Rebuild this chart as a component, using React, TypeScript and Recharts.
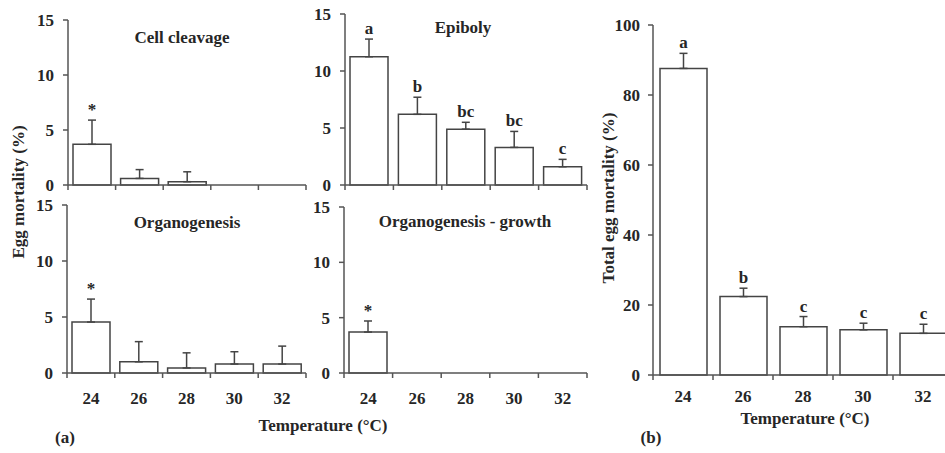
import React from 'react';
import { BarChart, Bar, XAxis, YAxis, ErrorBar } from 'recharts';

const temps = [24, 26, 28, 30, 32];
const edgeTicks = [23, 24, 25, 26, 27, 28, 29, 30, 31, 32, 33];
const stageTicks = [0, 5, 10, 15];
const totalTicks = [0, 20, 40, 60, 80, 100];

const cleavageMean = [3.7, 0.6, 0.3, 0, 0];
const cleavageErr = [2.2, 0.8, 0.9, 0, 0];
const cleavageSig = ['*', '', '', '', ''];

const epibolyMean = [11.25, 6.2, 4.9, 3.3, 1.6];
const epibolyErr = [1.55, 1.5, 0.6, 1.4, 0.65];
const epibolySig = ['a', 'b', 'bc', 'bc', 'c'];

const organMean = [4.55, 1.0, 0.45, 0.8, 0.8];
const organErr = [2.05, 1.8, 1.35, 1.1, 1.6];
const organSig = ['*', '', '', '', ''];

const growthMean = [3.7, 0, 0, 0, 0];
const growthErr = [1.0, 0, 0, 0, 0];
const growthSig = ['*', '', '', '', ''];

const totalMean = [87.6, 22.4, 13.8, 12.9, 11.9];
const totalErr = [4.3, 2.4, 2.9, 1.9, 2.6];
const totalSig = ['a', 'b', 'c', 'c', 'c'];

const FONT = '"Liberation Serif", "Times New Roman", serif';
const INK = '#262626';
const LINE = '#555';
const BAR = '#444';

const textStyle = { fill: INK, fontFamily: FONT, fontWeight: 'bold', fontSize: 17 } as const;

const rowsOf = (mean: number[], err: number[]) =>
  temps.map((t, i) => ({ t, m: mean[i], e: [0, err[i]] }));

interface PanelProps {
  x: number;
  y: number;
  w: number;
  h: number;
  margin: { top: number; right: number; left: number; bottom: number };
  yWidth: number;
  yMax: number;
  yTicks: number[];
  mean: number[];
  err: number[];
  sig: string[];
  barSize: number;
  labelGap: number; // 0 = no x labels
  tickMargin: number;
}

const Panel = ({ x, y, w, h, margin, yWidth, yMax, yTicks, mean, err, sig, barSize, labelGap, tickMargin }: PanelProps) => {
  const rows = rowsOf(mean, err);

  // ticks sit on the category edges (odd values), labels on the centres
  const tick = (p: any) => {
    const v = p.payload.value;
    if (v % 2 === 1) {
      return <line x1={p.x} x2={p.x} y1={p.y} y2={p.y + 5} stroke={LINE} strokeWidth={1.5} />;
    }
    if (!labelGap) return <g />;
    return (
      <text x={p.x} y={p.y + labelGap} dy="0.35em" textAnchor="middle" style={textStyle}>
        {v}
      </text>
    );
  };

  const sigLabel = (p: any) => {
    const vb = p.viewBox && p.viewBox.width !== undefined ? p.viewBox : p;
    const i = p.index;
    const s = sig[i];
    if (!s || !mean[i]) return null;
    const top = vb.y - (err[i] * vb.height) / mean[i];
    return (
      <text key={`s${i}`} x={vb.x + vb.width / 2} y={top - 5} textAnchor="middle" style={textStyle}>
        {s}
      </text>
    );
  };

  return (
    <div style={{ position: 'absolute', left: x, top: y }}>
      <BarChart width={w} height={h} data={rows} margin={margin}>
        <XAxis
          dataKey="t"
          type="number"
          domain={[23, 33]}
          ticks={edgeTicks}
          interval={0}
          height={1}
          tickLine={false}
          tickSize={0}
          tickMargin={0}
          tick={tick}
          axisLine={{ stroke: LINE, strokeWidth: 1.5 }}
        />
        <YAxis
          type="number"
          domain={[0, yMax]}
          ticks={yTicks}
          interval={0}
          width={yWidth}
          tickSize={5}
          tickMargin={tickMargin}
          axisLine={{ stroke: LINE, strokeWidth: 1.5 }}
          tickLine={{ stroke: LINE, strokeWidth: 1.5 }}
          tick={textStyle}
        />
        <Bar
          dataKey="m"
          fill="#fff"
          stroke={BAR}
          strokeWidth={1.5}
          barSize={barSize}
          isAnimationActive={false}
          label={sigLabel}
        >
          <ErrorBar dataKey="e" direction="y" width={4} stroke={BAR} strokeWidth={1.5} />
        </Bar>
      </BarChart>
    </div>
  );
};

export default function App() {
  return (
    <div
      style={{
        position: 'absolute',
        left: 0,
        top: 0,
        width: 945,
        height: 453,
        overflow: 'hidden',
        background: '#fff',
      }}
    >
      <Panel x={0} y={0} w={320} h={200} margin={{ top: 20, right: 14, left: 0, bottom: 14 }} yWidth={68}
        yMax={15} yTicks={stageTicks} mean={cleavageMean} err={cleavageErr} sig={cleavageSig} barSize={38} labelGap={0} tickMargin={9} />
      <Panel x={300} y={0} w={300} h={200} margin={{ top: 14, right: 13, left: 0, bottom: 14 }} yWidth={45}
        yMax={15} yTicks={stageTicks} mean={epibolyMean} err={epibolyErr} sig={epibolySig} barSize={38} labelGap={0} tickMargin={9} />
      <Panel x={0} y={190} w={320} h={240} margin={{ top: 15, right: 14, left: 0, bottom: 56 }} yWidth={67}
        yMax={15} yTicks={stageTicks} mean={organMean} err={organErr} sig={organSig} barSize={38} labelGap={25} tickMargin={9} />
      <Panel x={300} y={190} w={300} h={240} margin={{ top: 17, right: 13, left: 0, bottom: 56 }} yWidth={44}
        yMax={15} yTicks={stageTicks} mean={growthMean} err={growthErr} sig={growthSig} barSize={38} labelGap={25} tickMargin={9} />
      <Panel x={600} y={0} w={360} h={430} margin={{ top: 25, right: 7, left: 0, bottom: 54 }} yWidth={53}
        yMax={100} yTicks={totalTicks} mean={totalMean} err={totalErr} sig={totalSig} barSize={47} labelGap={21} tickMargin={8} />

      <svg width={945} height={453} style={{ position: 'absolute', left: 0, top: 0, pointerEvents: 'none' }}>
        <text x={182} y={43} textAnchor="middle" style={textStyle}>Cell cleavage</text>
        <text x={463} y={33} textAnchor="middle" style={textStyle}>Epiboly</text>
        <text x={187} y={228} textAnchor="middle" style={textStyle}>Organogenesis</text>
        <text x={465} y={227} textAnchor="middle" style={textStyle}>Organogenesis - growth</text>
        <text transform="translate(18,192) rotate(-90)" dy="0.35em" textAnchor="middle" style={textStyle}>
          Egg mortality  (%)
        </text>
        <text transform="translate(608,198) rotate(-90)" dy="0.35em" textAnchor="middle" style={textStyle}>
          Total egg mortality  (%)
        </text>
        <text x={323} y={431} textAnchor="middle" style={textStyle}>Temperature  (°C)</text>
        <text x={805} y={424} textAnchor="middle" style={textStyle}>Temperature  (°C)</text>
        <text x={65} y={443} textAnchor="middle" style={textStyle}>(a)</text>
        <text x={651} y={443} textAnchor="middle" style={textStyle}>(b)</text>
      </svg>
    </div>
  );
}
